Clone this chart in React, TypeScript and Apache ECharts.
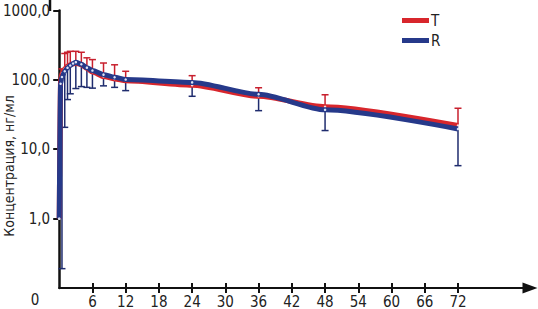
import React, { useEffect, useRef } from 'react';
import * as echarts from 'echarts';

// Time points (hours) and mean concentrations (ng/ml)
const times = [0, 0.25, 0.5, 1, 1.5, 2, 2.5, 3, 4, 5, 6, 8, 10, 12, 24, 36, 48, 72];
const meanT = [1.0, 100, 125, 145, 158, 165, 170, 174, 165, 146, 130, 112, 103, 97, 84, 58, 41, 22];
const meanR = [1.0, 88, 110, 133, 149, 161, 172, 180, 168, 150, 136, 119, 109, 101, 92, 62, 37, 19.6];

// Error bars: T shows upper bound, R shows lower bound
const errTimes = [0.5, 1, 1.5, 2, 3, 4, 5, 6, 8, 10, 12, 24, 36, 48, 72];
const upperT = [144, 240, 250, 258, 258, 250, 208, 196, 175, 165, 133, 115, 77, 61, 39];
const lowerR = [0.19, 20.7, 52, 63, 75, 80, 78, 76, 82, 78, 70, 58, 36, 18.6, 5.8];

const xTickValues = [6, 12, 18, 24, 30, 36, 42, 48, 54, 60, 66, 72];
const yTickValues = [1, 10, 100, 1000];

const RED = '#d8262c';
const BLUE = '#26398a';
const RED_ERR = '#c8202e';
const BLUE_ERR = '#1f2c6e';
const FONT = '"Liberation Sans Narrow", "Arial Narrow", "DejaVu Sans Condensed", sans-serif';

function errData(bounds: number[], means: number[]) {
  return errTimes.map((t, i) => {
    const idx = times.indexOf(t);
    return [t, means[idx], bounds[i]];
  });
}

function errRenderer(color: string) {
  return (params: any, api: any) => {
    const x = api.value(0);
    const m = api.value(1);
    const b = api.value(2);
    const p1 = api.coord([x, m]);
    const p2 = api.coord([x, b]);
    const hw = 3.5;
    return {
      type: 'group',
      children: [
        { type: 'line', shape: { x1: p1[0], y1: p1[1], x2: p2[0], y2: p2[1] }, style: { stroke: color, lineWidth: 1.5 } },
        { type: 'line', shape: { x1: p2[0] - hw, y1: p2[1], x2: p2[0] + hw, y2: p2[1] }, style: { stroke: color, lineWidth: 1.5 } },
      ],
    };
  };
}

export default function App() {
  const ref = useRef<HTMLDivElement>(null);
  useEffect(() => {
    if (!ref.current) return;
    document.body.style.margin = '0';
    const chart = echarts.init(ref.current, null, { renderer: 'svg' });
    const fmt = (v: number) => (v >= 0.99 ? Number(v.toPrecision(6)).toFixed(1).replace('.', ',') : '');
    chart.setOption({
      animation: false,
      backgroundColor: '#fff',
      grid: { left: 50, right: 8, top: 10.5, bottom: 19, containLabel: false },
      legend: {
        orient: 'vertical',
        left: 402,
        top: 13,
        padding: 0,
        itemWidth: 27,
        itemHeight: 5,
        itemGap: 5,
        icon: 'rect',
        textStyle: { fontFamily: FONT, fontSize: 15, color: '#222', padding: [0, 0, 0, -3] },
        data: [
          { name: 'T', itemStyle: { color: RED } },
          { name: 'R', itemStyle: { color: BLUE } },
        ],
      },
      xAxis: [
        {
          type: 'value',
          min: 0,
          max: 85,
          splitLine: { show: false },
          axisLine: { show: true, onZero: false, symbol: ['none', 'triangle'], symbolSize: [11, 15], lineStyle: { color: '#111', width: 2 } },
          axisTick: { show: true, customValues: xTickValues, length: 5, lineStyle: { color: '#111', width: 2 } },
          axisLabel: { show: true, customValues: xTickValues, margin: 6, fontFamily: FONT, fontSize: 15, color: '#222' },
        },
        {
          type: 'value',
          min: 0,
          max: 85,
          position: 'bottom',
          splitLine: { show: false },
          axisLine: { show: false },
          axisTick: { show: true, inside: true, customValues: xTickValues, length: 5, lineStyle: { color: '#111', width: 2 } },
          axisLabel: { show: false },
        },
      ],
      yAxis: {
        type: 'log',
        logBase: 10,
        min: 0.1,
        max: 1000,
        splitLine: { show: false },
        axisLine: { show: true, lineStyle: { color: '#111', width: 2.5 } },
        axisTick: { show: true, customValues: yTickValues, length: 6, lineStyle: { color: '#111', width: 2 } },
        axisLabel: { margin: 9, formatter: fmt, fontFamily: FONT, fontSize: 15, color: '#222' },
      },
      graphic: [
        { type: 'line', shape: { x1: 50, y1: 0, x2: 50, y2: 11 }, style: { stroke: '#111', lineWidth: 2.5 } },
        {
          type: 'text',
          x: 9,
          y: 166,
          rotation: Math.PI / 2,
          style: { text: 'Концентрация, нг/мл', fontFamily: FONT, fontSize: 14, fill: '#222', textAlign: 'center', textVerticalAlign: 'middle' },
        },
        {
          type: 'text',
          x: 35,
          y: 300,
          style: { text: '0', fontFamily: FONT, fontSize: 15, fill: '#222', textAlign: 'center', textVerticalAlign: 'middle' },
        },
      ],
      series: [
        {
          name: 'T-err',
          type: 'custom',
          renderItem: errRenderer(RED_ERR),
          encode: { x: 0, y: [1, 2] },
          data: errData(upperT, meanT),
          z: 1,
        },
        {
          name: 'R-err',
          type: 'custom',
          renderItem: errRenderer(BLUE_ERR),
          encode: { x: 0, y: [1, 2] },
          data: errData(lowerR, meanR),
          z: 1,
        },
        {
          name: 'T',
          type: 'line',
          data: times.map((t, i) => [t, meanT[i]]),
          smooth: 0.25,
          smoothMonotone: 'x',
          showSymbol: true,
          symbol: 'circle',
          symbolSize: 2.5,
          itemStyle: { color: '#f4dede' },
          lineStyle: { color: RED, width: 5 },
          z: 2,
        },
        {
          name: 'R',
          type: 'line',
          data: times.map((t, i) => [t, meanR[i]]),
          smooth: 0.25,
          smoothMonotone: 'x',
          showSymbol: true,
          symbol: 'circle',
          symbolSize: 2.5,
          itemStyle: { color: '#dde3f5' },
          lineStyle: { color: BLUE, width: 5 },
          z: 3,
        },
      ],
    });
    return () => chart.dispose();
  }, []);
  return <div ref={ref} style={{ width: 538, height: 309 }} />;
}
